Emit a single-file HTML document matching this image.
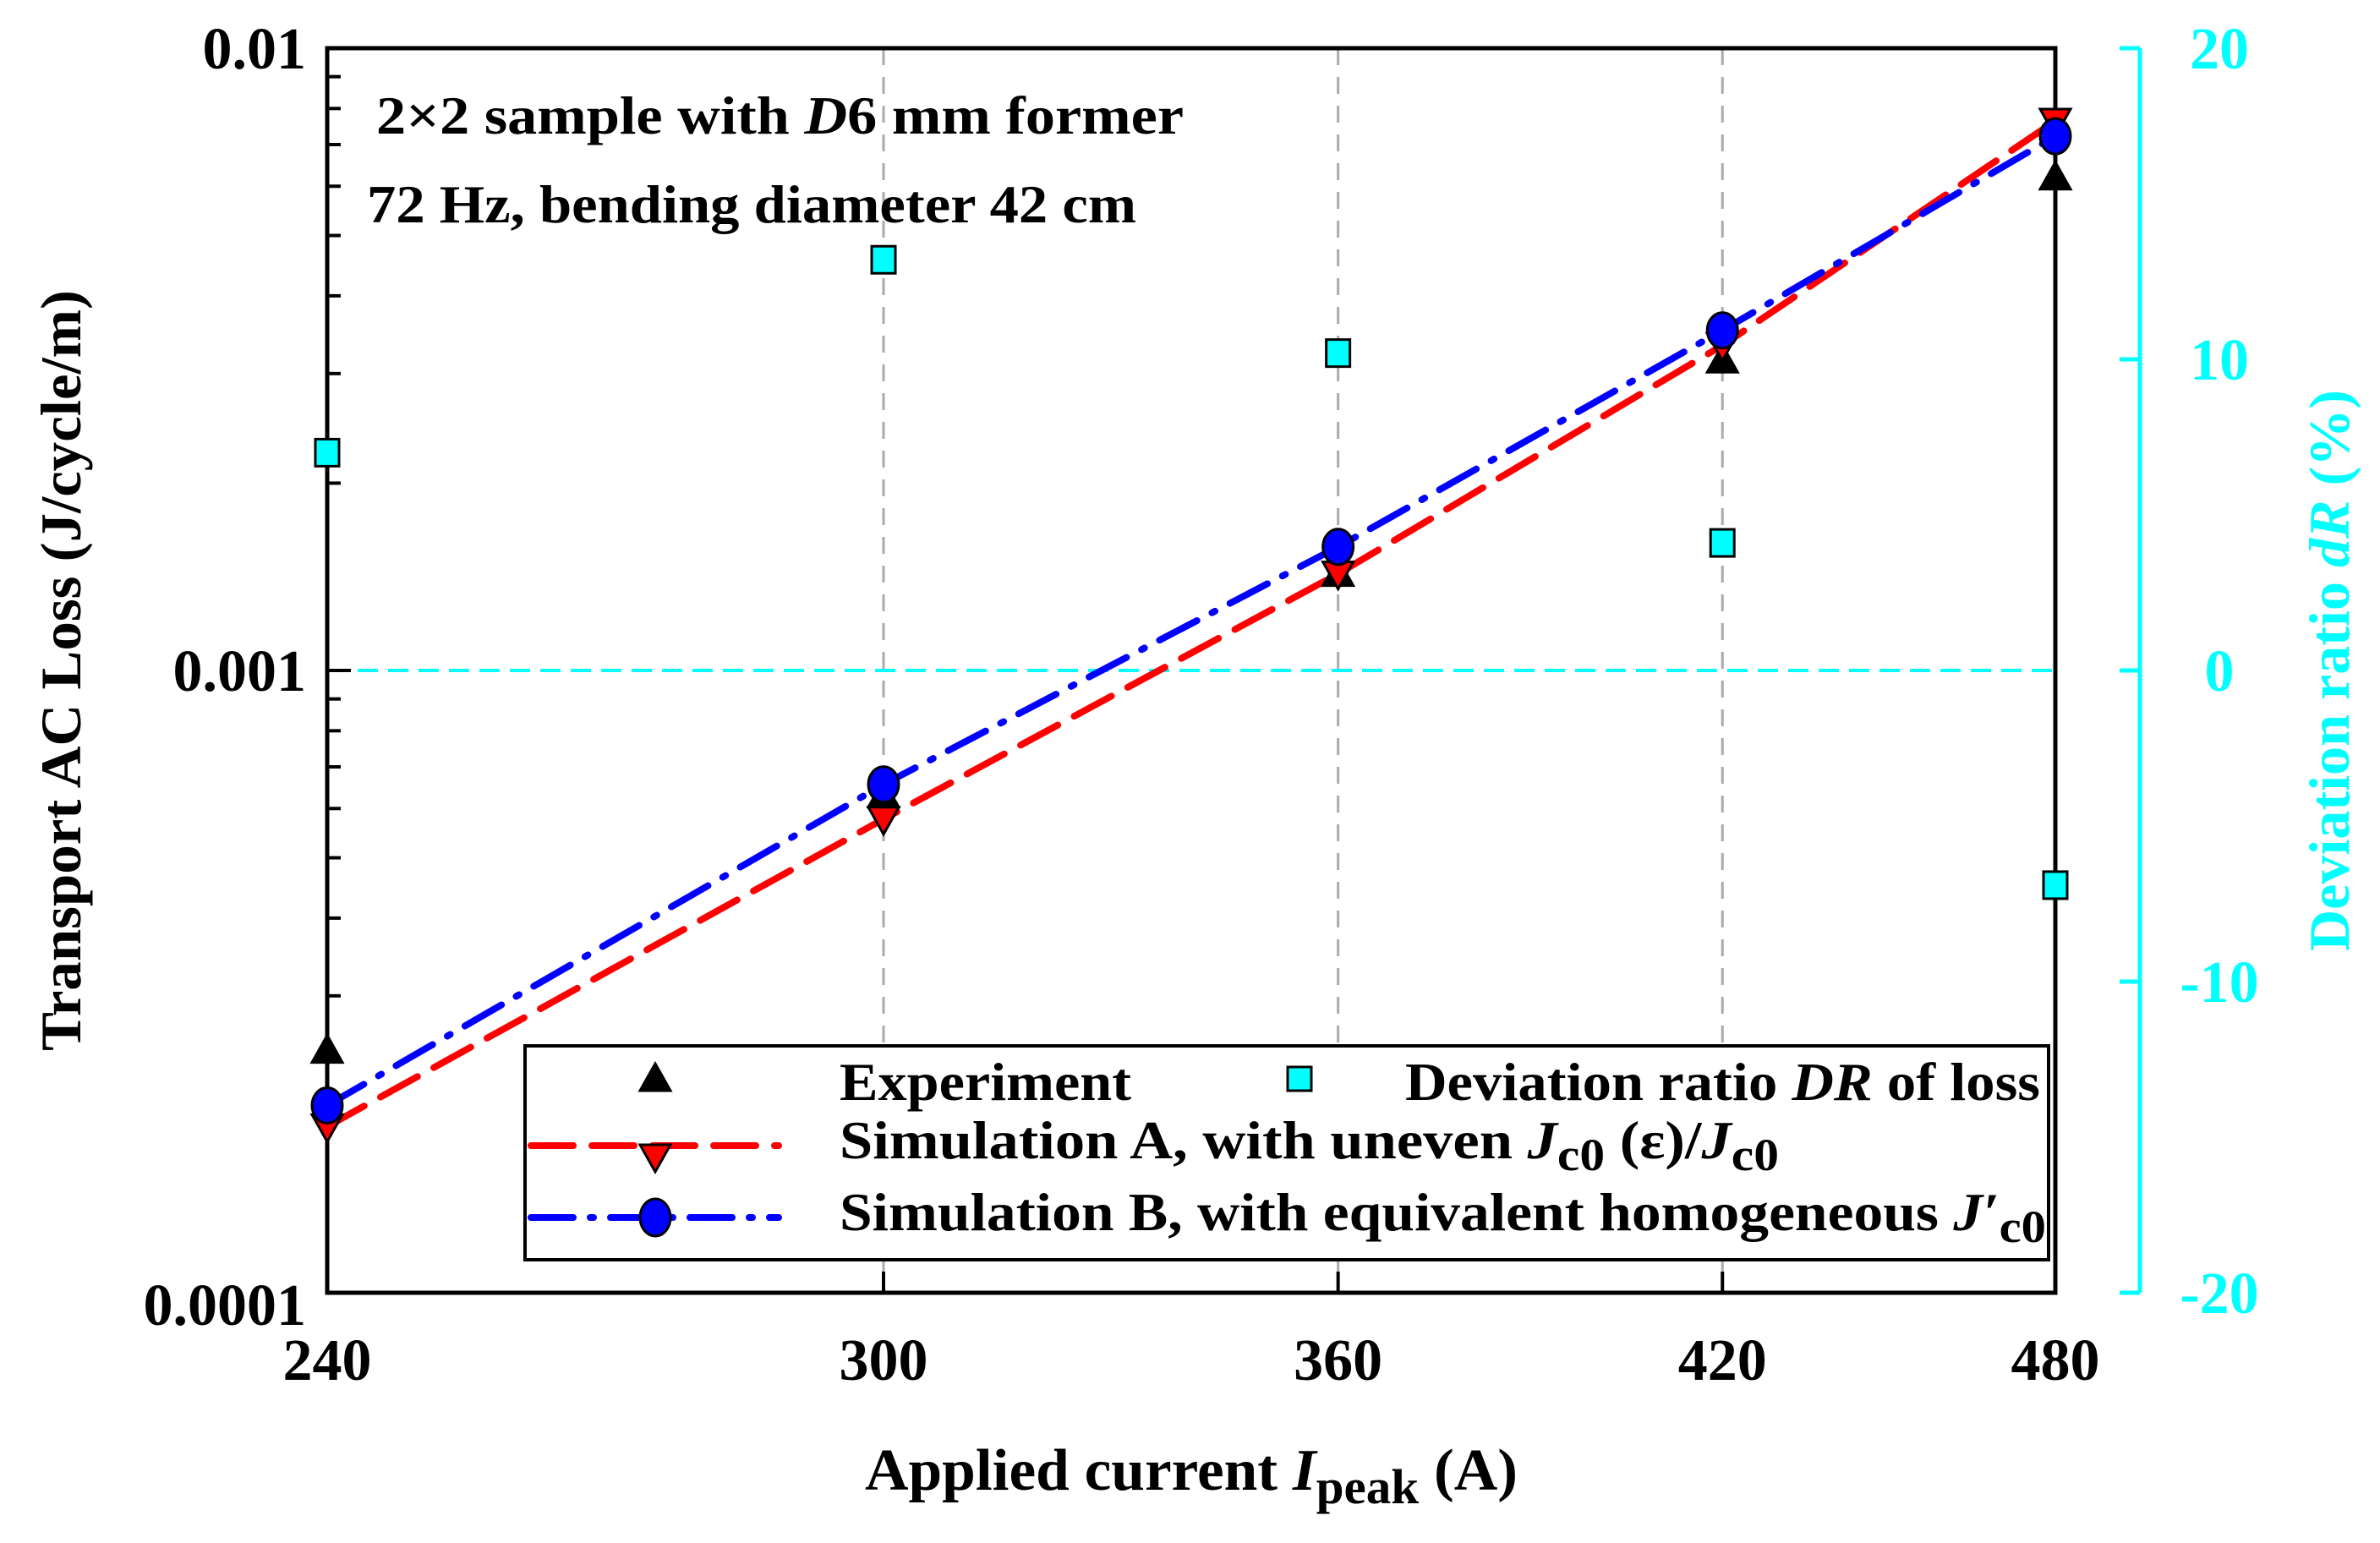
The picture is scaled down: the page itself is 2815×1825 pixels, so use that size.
<!DOCTYPE html>
<html><head><meta charset="utf-8"><style>
html,body{margin:0;padding:0;background:#fff;}
svg{display:block;font-family:"Liberation Serif",serif;font-weight:bold;}
</style></head><body>
<svg id="chart" width="2815" height="1825" viewBox="0 0 2815 1825" xmlns="http://www.w3.org/2000/svg">
<g id="grid"></g>
<g id="axes"></g>
<g id="series"></g>
<text x="445" y="158" font-size="64" textLength="955" lengthAdjust="spacingAndGlyphs">2×2  sample with <tspan font-style="italic">D</tspan>6 mm former</text>
<text x="434" y="263" font-size="64" textLength="910" lengthAdjust="spacingAndGlyphs">72 Hz, bending diameter 42 cm</text>
<text x="1023" y="1762" font-size="70" textLength="772" lengthAdjust="spacingAndGlyphs">Applied current <tspan font-style="italic">I</tspan><tspan font-size="58" dy="16">peak</tspan><tspan dy="-16"> (A)</tspan></text>
<text transform="translate(95,793) rotate(-90)" text-anchor="middle" font-size="68" textLength="900" lengthAdjust="spacingAndGlyphs">Transport AC Loss (J/cycle/m)</text>
<text transform="translate(2778,793) rotate(-90)" text-anchor="middle" font-size="68" fill="#00ffff" textLength="664" lengthAdjust="spacingAndGlyphs">Deviation ratio <tspan font-style="italic">dR</tspan> (%)</text>
<g id="legend">
<rect x="621" y="1237" width="1802" height="253" fill="#fff" stroke="#000" stroke-width="4"/>
<polygon points="775,1258 757,1290 793,1290" fill="#000" stroke="#000" stroke-width="3"/>
<text x="993" y="1301" font-size="64" textLength="345" lengthAdjust="spacingAndGlyphs">Experiment</text>
<rect x="1523" y="1262" width="28" height="28" fill="#00ffff" stroke="#000" stroke-width="3"/>
<text x="1662" y="1301" font-size="64" textLength="751" lengthAdjust="spacingAndGlyphs">Deviation ratio <tspan font-style="italic">DR</tspan> of loss</text>
<line x1="628" y1="1355" x2="921" y2="1355" stroke="#ff0000" stroke-width="8" stroke-dasharray="50,22" stroke-linecap="round"/>
<polygon points="775,1386 757,1354 793,1354" fill="#ff0000" stroke="#000" stroke-width="3"/>
<text x="993" y="1370" font-size="64" textLength="1111" lengthAdjust="spacingAndGlyphs">Simulation A, with uneven <tspan font-style="italic">J</tspan><tspan font-size="54" dy="14">c0</tspan><tspan dy="-14"> (ε)/</tspan><tspan font-style="italic">J</tspan><tspan font-size="54" dy="14">c0</tspan></text>
<line x1="628" y1="1440" x2="921" y2="1440" stroke="#0000ff" stroke-width="8" stroke-dasharray="50,20,4,20" stroke-linecap="round"/>
<ellipse cx="775" cy="1440" rx="18" ry="22" fill="#0000ff" stroke="#000" stroke-width="3"/>
<text x="993" y="1455" font-size="64" textLength="1427" lengthAdjust="spacingAndGlyphs">Simulation B, with equivalent homogeneous <tspan font-style="italic">J′</tspan><tspan font-size="54" dy="14">c0</tspan></text>
</g>
</svg>
<script>
const currents=[240,300,360,420,480];
const experiment=[2.45e-4,6.3e-4,1.43e-3,3.15e-3,6.2e-3];
const simA=[1.85e-4,5.77e-4,1.43e-3,3.33e-3,7.64e-3];
const simB=[2.0e-4,6.56e-4,1.58e-3,3.52e-3,7.22e-3];
const deviation=[7.0,13.2,10.2,4.1,-6.9];
const xTicks=[240,300,360,420,480];
const yTicks=[0.0001,0.001,0.01];
const yTickLabels=["0.0001","0.001","0.01"];
const y2Ticks=[-20,-10,0,10,20];

const L=387,R=2431,T=57,B=1529,AX2=2531;
const NS="http://www.w3.org/2000/svg";
function xs(v){return L+(Math.log(v)-Math.log(240))/(Math.log(480)-Math.log(240))*(R-L);}
function ys(v){return B-(Math.log10(v)+4)/2*(B-T);}
function y2s(v){return B-(v+20)/40*(B-T);}
function mk(tag,attrs,parent){const e=document.createElementNS(NS,tag);for(const k in attrs)e.setAttribute(k,attrs[k]);parent.appendChild(e);return e;}
const grid=document.getElementById('grid'),axes=document.getElementById('axes'),ser=document.getElementById('series');

xTicks.forEach((v,i)=>{
  const x=xs(v);
  if(i>0&&i<xTicks.length-1){
    const g=mk('line',{x1:x,y1:T,x2:x,y2:B,stroke:'#aaa','stroke-width':3,'stroke-dasharray':'20,14'},grid);
    
    
    const t=mk('line',{x1:x,y1:B,x2:x,y2:B-25,stroke:'#000','stroke-width':4},axes);
    
    
  }
  const lb=mk('text',{x:x,y:1632,'text-anchor':'middle','font-size':70},axes);
  lb.textContent=v;
  
  
});
const zl=mk('line',{x1:L,y1:y2s(0),x2:R,y2:y2s(0),stroke:'#00ffff','stroke-width':4,'stroke-dasharray':'24,12'},grid);



const fr=mk('rect',{x:L,y:T,width:R-L,height:B-T,fill:'none',stroke:'#000','stroke-width':5},axes);


for(let d=-4;d<-2;d++){for(let m=2;m<10;m++){const y=ys(m*Math.pow(10,d));
  const t=mk('line',{x1:L,y1:y,x2:L+16,y2:y,stroke:'#000','stroke-width':4},axes);
  
  }}
yTicks.forEach((v,i)=>{const y=ys(v);
  const t=mk('line',{x1:L,y1:y,x2:L+28,y2:y,stroke:'#000','stroke-width':4},axes);
  
  
  const lb=mk('text',{x:362,y:y+24+(i==0?14:0),'text-anchor':'end','font-size':70},axes);
  lb.textContent=yTickLabels[i];
  
  });
const ra=mk('line',{x1:AX2,y1:T,x2:AX2,y2:B,stroke:'#00ffff','stroke-width':5},axes);


y2Ticks.forEach(v=>{const y=y2s(v);
  const t=mk('line',{x1:AX2,y1:y,x2:AX2-24,y2:y,stroke:'#00ffff','stroke-width':5},axes);
  
  
  const lb=mk('text',{x:2625,y:y+24,'text-anchor':'middle','font-size':70,fill:'#00ffff'},axes);
  lb.textContent=v;
  
  });

function pts(arr){return currents.map((c,i)=>xs(c)+','+ys(arr[i])).join(' ');}
const la=mk('polyline',{points:pts(simA),fill:'none',stroke:'#ff0000','stroke-width':8,'stroke-dasharray':'50,22','stroke-linecap':'round'},ser);


const lbl=mk('polyline',{points:pts(simB),fill:'none',stroke:'#0000ff','stroke-width':8,'stroke-dasharray':'50,20,4,20','stroke-linecap':'round'},ser);



currents.forEach((c,i)=>{const x=xs(c);
  let y=ys(experiment[i]);
  const e=mk('polygon',{points:`${x},${y-18} ${x-18},${y+14} ${x+18},${y+14}`,fill:'#000',stroke:'#000','stroke-width':3},ser);
  
  
  y=ys(simA[i]);
  const a=mk('polygon',{points:`${x},${y+18} ${x-18},${y-14} ${x+18},${y-14}`,fill:'#ff0000',stroke:'#000','stroke-width':3},ser);
  
  
  y=ys(simB[i]);
  const b=mk('ellipse',{cx:x,cy:y,rx:18,ry:21,fill:'#0000ff',stroke:'#000','stroke-width':3},ser);
  
  
  y=y2s(deviation[i]);
  const d=mk('rect',{x:x-14,y:y-16,width:28,height:32,fill:'#00ffff',stroke:'#000','stroke-width':3},ser);
  
  
});
</script>
</body></html>
